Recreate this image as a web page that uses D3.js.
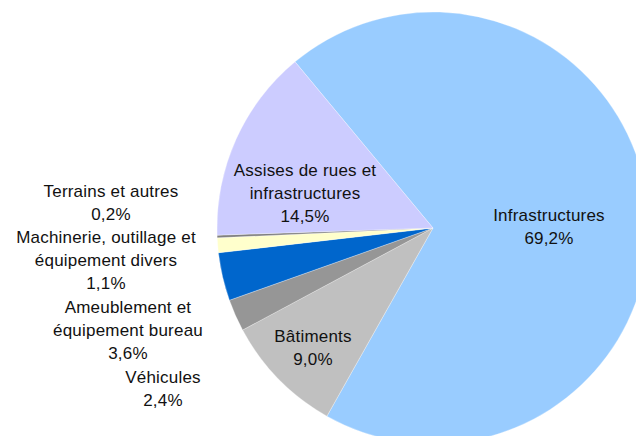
<!DOCTYPE html>
<html>
<head>
<meta charset="utf-8">
<script src="https://cdn.jsdelivr.net/npm/d3@7"></script>
<style>
  body { margin: 0; background: #fff; }
  svg { display: block; }
</style>
</head>
<body>
<svg id="chart" width="636" height="436"></svg>
<script>
const categories = [
  'Infrastructures',
  'Bâtiments',
  'Véhicules',
  'Ameublement et équipement bureau',
  'Machinerie, outillage et équipement divers',
  'Terrains et autres',
  'Assises de rues et infrastructures'
];
const values = [69.2, 9.0, 2.4, 3.6, 1.1, 0.2, 14.5];
const labelLines = [
  ['Infrastructures'],
  ['Bâtiments'],
  ['Véhicules'],
  ['Ameublement et', 'équipement bureau'],
  ['Machinerie, outillage et', 'équipement divers'],
  ['Terrains et autres'],
  ['Assises de rues et', 'infrastructures']
];
const colors = ['#99ccff', '#c0c0c0', '#969696', '#0066cc', '#ffffcc', '#808080', '#ccccff'];

// first baseline of each label block, matched to the layout
const labelAnchors = [
  [549, 221], [313, 342], [163, 383], [128, 313], [106, 243], [111, 197], [305, 176]
];

const svg = d3.select('#chart');
const cx = 433, cy = 228, radius = 216;
const lineH = 23;

const pie = d3.pie().sort(null).value(d => d)
  .startAngle(-39.7 * Math.PI / 180)
  .endAngle((360 - 39.7) * Math.PI / 180);
const arc = d3.arc().innerRadius(0).outerRadius(radius);
const fmt = v => d3.format('.1f')(v).replace('.', ',') + '%';

const g = svg.append('g').attr('transform', `translate(${cx},${cy})`);
g.selectAll('path')
  .data(pie(values))
  .enter().append('path')
  .attr('d', arc)
  .attr('fill', (d, i) => colors[i])
  .attr('stroke', '#ffffff')
  .attr('stroke-width', 0.3);

const labels = svg.selectAll('text.lbl')
  .data(values)
  .enter().append('text')
  .attr('class', 'lbl')
  .attr('text-anchor', 'middle')
  .style('font-family', 'Liberation Sans, Arial, Helvetica, sans-serif')
  .style('font-size', '17px')
  .style('letter-spacing', '0.2px')
  .style('fill', '#111');

labels.each(function(v, i) {
  const t = d3.select(this);
  const [x, y] = labelAnchors[i];
  const lines = labelLines[i].concat([fmt(v)]);
  lines.forEach((s, k) => {
    t.append('tspan').attr('x', x).attr('y', y + k * lineH).text(s);
  });
});
</script>
</body>
</html>
